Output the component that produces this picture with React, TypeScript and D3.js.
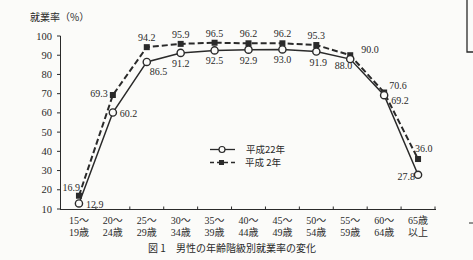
import React from "react";
import * as d3 from "d3";

const categoriesTop = ["15〜", "20〜", "25〜", "30〜", "35〜", "40〜", "45〜", "50〜", "55〜", "60〜", "65歳"];
const categoriesBottom = ["19歳", "24歳", "29歳", "34歳", "39歳", "44歳", "49歳", "54歳", "59歳", "64歳", "以上"];
const h22 = [12.9, 60.2, 86.5, 91.2, 92.5, 92.9, 93.0, 91.9, 88.0, 69.2, 27.8];
const h2 = [16.9, 69.3, 94.2, 95.9, 96.5, 96.2, 96.2, 95.3, 90.0, 70.6, 36.0];
const yTicks = [10, 20, 30, 40, 50, 60, 70, 80, 90, 100];
const seriesNames = ["平成22年", "平成 2年"];

// label offsets (layout only)
const h22Off: [number, number, string][] = [
  [7, 5, "start"], [7, 4, "start"], [3, 13, "start"], [0, 14, "middle"], [0, 14, "middle"],
  [0, 14, "middle"], [0, 14, "middle"], [2, 14, "middle"], [2, 10, "end"], [7, 9, "start"], [-3, 5, "end"],
];
const h2Off: [number, number, string][] = [
  [1, -5, "end"], [-5, 2, "end"], [0, -6, "middle"], [0, -6, "middle"], [0, -6, "middle"],
  [0, -6, "middle"], [0, -6, "middle"], [0, -6, "middle"], [11, -2, "start"], [5, -4, "start"], [-3, -7, "start"],
];

const W = 473, H = 260;
const serif = "'Liberation Serif', 'DejaVu Serif', 'Noto Sans CJK JP', serif";
const jp = "'Noto Sans CJK JP', sans-serif";
const ink = "#2a2a2a";

export default function App() {
  const x = d3.scaleBand<number>().domain(d3.range(categoriesTop.length)).range([62, 435]);
  const y = d3.scaleLinear().domain([10, 100]).range([209, 36]);
  const cx = (i: number) => (x(i) as number) + x.bandwidth() / 2;
  const line = d3.line<number>().x((_, i) => cx(i)).y((d) => y(d));

  return (
    <svg width={W} height={H} style={{ position: "absolute", left: 0, top: 0, background: "#fbfbf9" }}>
      <rect x={0} y={0} width={W} height={H} fill="#fbfbf9" />
      {/* partial box top right */}
      <path d="M467,0 V52 H473" fill="none" stroke={ink} strokeWidth={1.3} />
      <line x1={469} x2={473} y1={223} y2={223} stroke={ink} strokeWidth={1} />

      <text x={30} y={21} fontFamily={jp} fontSize={10} fill={ink}>就業率（%）</text>

      {/* axes */}
      <line x1={60.5} x2={60.5} y1={y(100)} y2={y(10)} stroke={ink} strokeWidth={1} />
      <line x1={60} x2={436} y1={209.5} y2={209.5} stroke={ink} strokeWidth={1} />
      {yTicks.map((t) => (
        <g key={t}>
          <line x1={57} x2={60.5} y1={y(t)} y2={y(t)} stroke={ink} />
          <text x={52} y={y(t) + 3.5} textAnchor="end" fontFamily={serif} fontSize={10.5} fill={ink}>{t}</text>
        </g>
      ))}
      {d3.range(1, categoriesTop.length + 1).map((i) => (
        <line key={i} x1={62 + i * x.step()} x2={62 + i * x.step()} y1={209.5} y2={206.5} stroke={ink} />
      ))}
      {categoriesTop.map((c, i) => (
        <g key={c + i}>
          <text x={cx(i)} y={224} textAnchor="middle" fontFamily={serif} fontSize={10} fill={ink}>{c}</text>
          <text x={cx(i)} y={236} textAnchor="middle" fontFamily={serif} fontSize={10} fill={ink}>{categoriesBottom[i]}</text>
        </g>
      ))}

      {/* series */}
      <path d={line(h2) || ""} fill="none" stroke={ink} strokeWidth={2} strokeDasharray="6,3" />
      <path d={line(h22) || ""} fill="none" stroke={ink} strokeWidth={1.5} />
      {h2.map((v, i) => (
        <rect key={"s" + i} x={cx(i) - 3} y={y(v) - 3} width={6} height={6} fill={ink} />
      ))}
      {h22.map((v, i) => (
        <circle key={"c" + i} cx={cx(i)} cy={y(v)} r={3.6} fill="#fbfbf9" stroke={ink} strokeWidth={1.4} />
      ))}
      {h2.map((v, i) => (
        <text key={"l2" + i} x={cx(i) + h2Off[i][0]} y={y(v) + h2Off[i][1]} textAnchor={h2Off[i][2] as any}
          fontFamily={serif} fontSize={10} fill={ink}>{v.toFixed(1)}</text>
      ))}
      {h22.map((v, i) => (
        <text key={"l22" + i} x={cx(i) + h22Off[i][0]} y={y(v) + h22Off[i][1]} textAnchor={h22Off[i][2] as any}
          fontFamily={serif} fontSize={10} fill={ink}>{v.toFixed(1)}</text>
      ))}

      {/* legend */}
      <line x1={210} x2={235} y1={149.5} y2={149.5} stroke={ink} strokeWidth={1.3} />
      <circle cx={222} cy={149.5} r={3} fill="#fbfbf9" stroke={ink} strokeWidth={1.2} />
      <text x={246} y={153} fontFamily={jp} fontSize={9.5} fill={ink}>{seriesNames[0]}</text>
      <line x1={210} x2={237} y1={162.5} y2={162.5} stroke={ink} strokeWidth={1.5} strokeDasharray="4,3" />
      <rect x={219} y={160} width={5} height={5} fill={ink} />
      <text x={245} y={166} fontFamily={jp} fontSize={9.5} fill={ink}>{seriesNames[1]}</text>

      <text x={232} y={252} textAnchor="middle" fontFamily={jp} fontSize={10} fill={ink}>図 1　男性の年齢階級別就業率の変化</text>
    </svg>
  );
}
